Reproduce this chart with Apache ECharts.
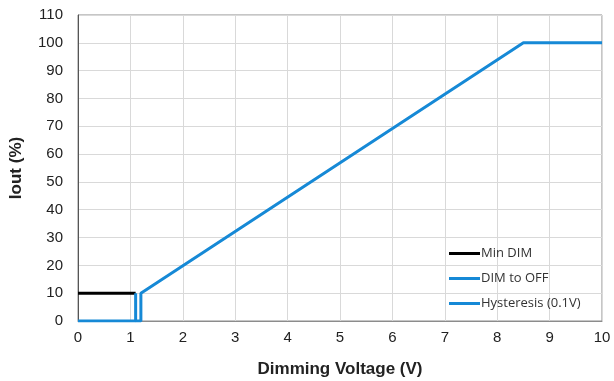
<!DOCTYPE html>
<html><head><meta charset="utf-8">
<script src="https://cdn.jsdelivr.net/npm/echarts@6/dist/echarts.min.js"></script>
<style>html,body{margin:0;padding:0;background:#fff}#c{width:614px;height:381px}</style>
</head><body><div id="c"></div>
<script>
const seriesNames = ['Min DIM', 'DIM to OFF', 'Hysteresis (0.1V)'];
const minDimX = [0, 1.1];
const minDimY = [10, 10];
const dimOffX = [0, 1.1, 1.1];
const dimOffY = [0, 0, 10];
const hystX = [1.1, 1.2, 1.2, 8.5, 10];
const hystY = [0, 0, 10, 100, 100];
const xTicks = [0,1,2,3,4,5,6,7,8,9,10];
const yTicks = [0,10,20,30,40,50,60,70,80,90,100,110];

const pairs = (xs, ys) => xs.map((x, i) => [x, ys[i]]);
const blue = '#1689d6';
const chart = echarts.init(document.getElementById('c'));
const font = 'Liberation Sans, Arial, sans-serif';
chart.setOption({
  animation: false,
  grid: {left: 78, right: 12, top: 15, bottom: 60, show: true, borderColor: '#8c8c8c', borderWidth: 1, outerBoundsMode: 'none', containLabel: false},
  legend: {
    orient: 'vertical', left: 444, top: 239, itemWidth: 31, itemHeight: 3, itemGap: 6,
    icon: 'rect',
    textStyle: {fontFamily: 'Open Sans, sans-serif', fontSize: 13, color: '#333', padding: [0,0,0,-4], lineHeight: 19},
    data: seriesNames
  },
  xAxis: {
    type: 'value', min: xTicks[0], max: xTicks[xTicks.length-1], interval: 1,
    name: 'Dimming Voltage (V)', nameLocation: 'middle', nameGap: 40,
    nameTextStyle: {fontFamily: font, fontSize: 17, fontWeight: 'bold', color: '#222'},
    axisLine: {show: true, lineStyle: {color: '#8c8c8c'}},
    axisTick: {show: false},
    axisLabel: {fontFamily: font, fontSize: 15, color: '#222', margin: 9},
    splitLine: {show: true, lineStyle: {color: '#d9d9d9'}}
  },
  yAxis: {
    type: 'value', min: yTicks[0], max: yTicks[yTicks.length-1], interval: 10,
    name: 'Iout (%)', nameLocation: 'middle', nameGap: 53, nameRotate: 90,
    nameTextStyle: {fontFamily: font, fontSize: 17, fontWeight: 'bold', color: '#222'},
    axisLine: {show: true, lineStyle: {color: '#555'}},
    axisTick: {show: false},
    axisLabel: {fontFamily: font, fontSize: 15, color: '#222', margin: 15},
    splitLine: {show: true, lineStyle: {color: '#d9d9d9'}}
  },
  series: [
    {name: seriesNames[0], type: 'line', symbol: 'none', data: pairs(minDimX, minDimY), lineStyle: {color: '#000', width: 3}, itemStyle: {color: '#000'}},
    {name: seriesNames[1], type: 'line', symbol: 'none', data: pairs(dimOffX, dimOffY), lineStyle: {color: blue, width: 3}, itemStyle: {color: blue}},
    {name: seriesNames[2], type: 'line', symbol: 'none', data: pairs(hystX, hystY), lineStyle: {color: blue, width: 3}, itemStyle: {color: blue}}
  ]
});
</script></body></html>
